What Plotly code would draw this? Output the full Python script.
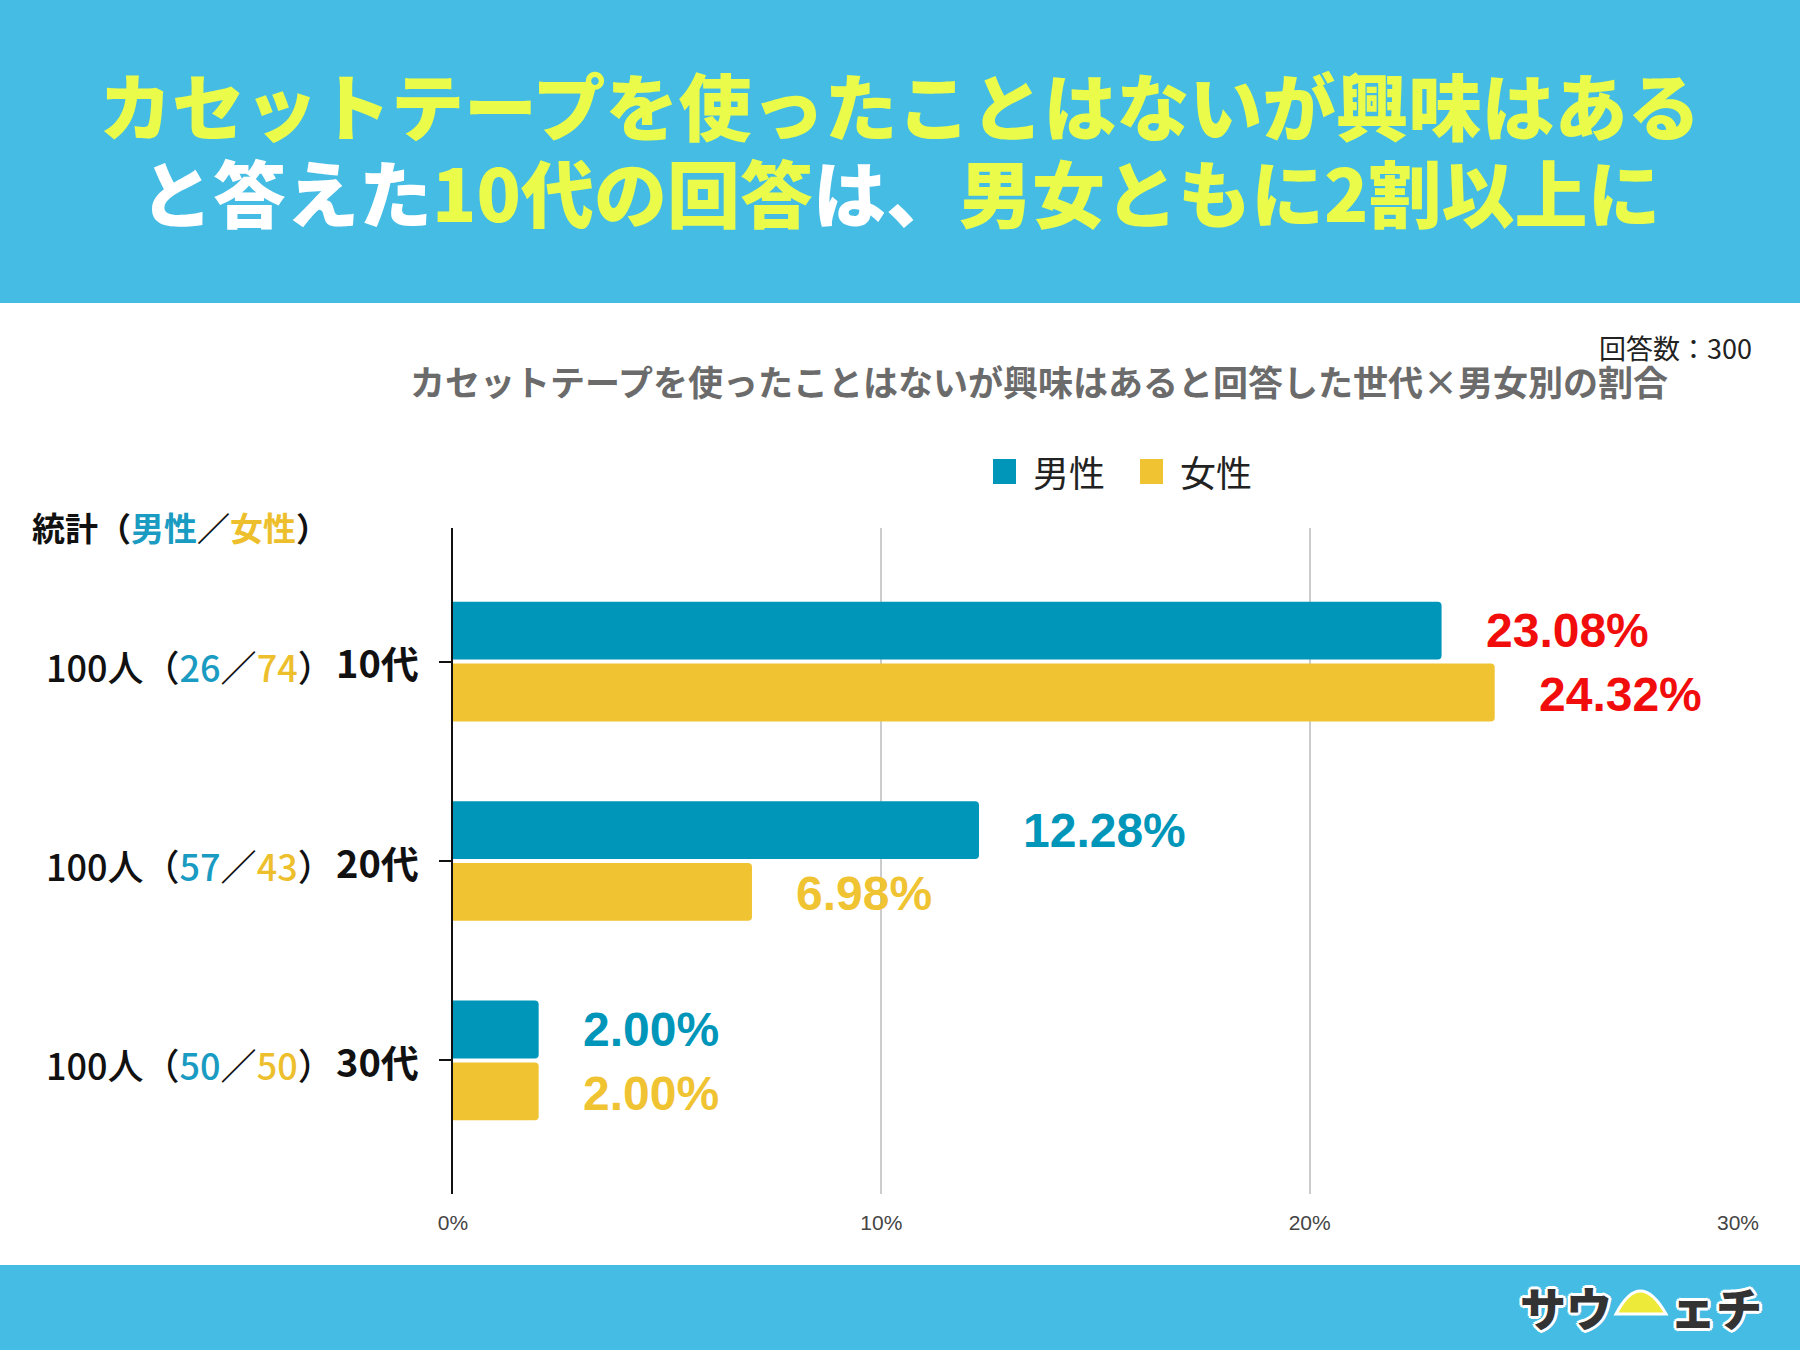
import plotly.graph_objects as go

# ---------------- data ----------------
age_groups = ["10代", "20代", "30代"]
series_names = ["男性", "女性"]
male_pct = [23.08, 12.28, 2.00]
female_pct = [24.32, 6.98, 2.00]
totals = [100, 100, 100]
male_n = [26, 57, 50]
female_n = [74, 43, 50]
x_ticks = [0, 10, 20, 30]
x_tick_labels = ["0%", "10%", "20%", "30%"]

title_line1 = "カセットテープを使ったことはないが興味はある"
title_line2_parts = [("と答えた", "white"), ("10代の回答", "yellow"), ("は、", "white"), ("男女ともに2割以上に", "yellow")]
subtitle = "カセットテープを使ったことはないが興味はあると回答した世代×男女別の割合"
sample_note = "回答数：300"
stats_head = "統計"
logo_text_left = "サウ"
logo_text_right = "ェチ"

# ---------------- style ----------------
W, H = 1800, 1350
BLUE_BAND = "#44BCE4"
TITLE_YELLOW = "#EAFB4A"
MALE = "#0096B9"
FEMALE = "#F0C332"
MALE_TXT = "#1A9BC2"
FEMALE_TXT = "#EDBF2C"
RED = "#F20D0D"
JP = "Noto Sans CJK JP"
WHITE_OUTLINE = ("#FFFFFF 3px 0px 0px, #FFFFFF -3px 0px 0px, #FFFFFF 0px 3px 0px, #FFFFFF 0px -3px 0px, "
                 "#FFFFFF 2px 2px 0px, #FFFFFF -2px -2px 0px, #FFFFFF 2px -2px 0px, #FFFFFF -2px 2px 0px")


def px(x):
    return x / W


def py(y):
    return 1 - y / H


fig = go.Figure()

ys = list(range(len(age_groups)))
fig.add_trace(go.Bar(
    x=male_pct, y=ys, orientation="h", name=series_names[0],
    width=0.29, offset=-0.30,
    marker=dict(color=MALE, cornerradius=4, line=dict(width=0)),
    hoverinfo="skip",
))
fig.add_trace(go.Bar(
    x=female_pct, y=ys, orientation="h", name=series_names[1],
    width=0.29, offset=0.01,
    marker=dict(color=FEMALE, cornerradius=4, line=dict(width=0)),
    hoverinfo="skip",
))

annotations = []
shapes = []

# value labels
for i, (m, f) in enumerate(zip(male_pct, female_pct)):
    mc = RED if i == 0 else MALE
    fc = RED if i == 0 else FEMALE
    annotations.append(dict(x=m, y=i - 0.155, xref="x", yref="y", text=f"{m:.2f}%",
                            xanchor="left", yanchor="middle", xshift=42, showarrow=False,
                            font=dict(family="Liberation Sans", size=48, color=mc, weight="bold")))
    annotations.append(dict(x=f, y=i + 0.165, xref="x", yref="y", text=f"{f:.2f}%",
                            xanchor="left", yanchor="middle", xshift=42, showarrow=False,
                            font=dict(family="Liberation Sans", size=48, color=fc, weight="bold")))

# left labels
for i, g in enumerate(age_groups):
    txt = (f"{totals[i]}人（<span style='color:{MALE_TXT}'>{male_n[i]}</span>／"
           f"<span style='color:{FEMALE_TXT}'>{female_n[i]}</span>）")
    annotations.append(dict(x=px(336), y=i, xref="paper", yref="y", text=txt,
                            xanchor="right", yanchor="middle", showarrow=False, yshift=-4,
                            font=dict(family=JP, size=36, color="#111111", weight=500)))
    annotations.append(dict(x=px(421), y=i, xref="paper", yref="y", text=g,
                            xanchor="right", yanchor="middle", showarrow=False, yshift=0,
                            font=dict(family=JP, size=38, color="#111111", weight="bold")))

# stats header
annotations.append(dict(
    x=px(30), y=py(527), xref="paper", yref="paper", xanchor="left", yanchor="middle", showarrow=False,
    text=(f"{stats_head}（<span style='color:{MALE_TXT}'>{series_names[0]}</span>／"
          f"<span style='color:{FEMALE_TXT}'>{series_names[1]}</span>）"),
    font=dict(family=JP, size=33, color="#111111", weight="bold")))

# header band + footer band
shapes.append(dict(type="rect", xref="paper", yref="paper", x0=0, x1=1, y0=py(303), y1=1,
                   fillcolor=BLUE_BAND, line=dict(width=0), layer="below"))
shapes.append(dict(type="rect", xref="paper", yref="paper", x0=0, x1=1, y0=0, y1=py(1265),
                   fillcolor=BLUE_BAND, line=dict(width=0), layer="below"))

annotations.append(dict(x=0.5, y=py(103), xref="paper", yref="paper", text=title_line1,
                        xanchor="center", yanchor="middle", showarrow=False,
                        font=dict(family=JP, size=73, color=TITLE_YELLOW, weight=900)))
col = {"white": "#FFFFFF", "yellow": TITLE_YELLOW}
line2 = "".join(f"<span style='color:{col[c]}'>{t}</span>" for t, c in title_line2_parts)
annotations.append(dict(x=0.5, y=py(190), xref="paper", yref="paper", text=line2,
                        xanchor="center", yanchor="middle", showarrow=False,
                        font=dict(family=JP, size=73, color=TITLE_YELLOW, weight=900)))

# subtitle and note
annotations.append(dict(x=px(1039), y=py(381), xref="paper", yref="paper", text=subtitle,
                        xanchor="center", yanchor="middle", showarrow=False,
                        font=dict(family=JP, size=35, color="#6B6B6B", weight="bold")))
annotations.append(dict(x=px(1754), y=py(347), xref="paper", yref="paper", text=sample_note,
                        xanchor="right", yanchor="middle", showarrow=False,
                        font=dict(family=JP, size=27, color="#222222")))

# legend
legend_items = [(series_names[0], MALE, 993), (series_names[1], FEMALE, 1140)]
for name, c, x0 in legend_items:
    shapes.append(dict(type="rect", xref="paper", yref="paper", x0=px(x0), x1=px(x0 + 23),
                       y0=py(484), y1=py(459), fillcolor=c, line=dict(width=0)))
    annotations.append(dict(x=px(x0 + 38), y=py(471), xref="paper", yref="paper", text=name,
                            xanchor="left", yanchor="middle", showarrow=False,
                            font=dict(family=JP, size=36, color="#222222")))

# logo (approximation)
shapes.append(dict(type="path", xref="paper", yref="paper",
                   path=(f"M {px(1616)},{py(1314)} Q {px(1640)},{py(1268)} {px(1666)},{py(1314)} Z"),
                   fillcolor="#EEEA3A", line=dict(color="#FFFFFF", width=3)))
annotations.append(dict(x=px(1614), y=py(1306), xref="paper", yref="paper", text=logo_text_left,
                        xanchor="right", yanchor="middle", showarrow=False,
                        font=dict(family=JP, size=46, color="#333333", weight=900, shadow=WHITE_OUTLINE)))
annotations.append(dict(x=px(1668), y=py(1306), xref="paper", yref="paper", text=logo_text_right,
                        xanchor="left", yanchor="middle", showarrow=False,
                        font=dict(family=JP, size=46, color="#333333", weight=900, shadow=WHITE_OUTLINE)))

fig.update_layout(
    width=W, height=H,
    margin=dict(l=0, r=0, t=0, b=0, pad=0, autoexpand=False),
    paper_bgcolor="white", plot_bgcolor="white",
    barmode="overlay", showlegend=False,
    annotations=annotations, shapes=shapes,
    xaxis=dict(domain=[px(453), px(1738)], range=[0, 30], tickvals=x_ticks, ticktext=x_tick_labels,
               showgrid=True, gridcolor="#CCCCCC", gridwidth=1.5, zeroline=False, showline=False,
               ticks="", ticklabelstandoff=14, automargin=False,
               tickfont=dict(family="Liberation Sans", size=21, color="#444444"), fixedrange=True),
    yaxis=dict(domain=[py(1194), py(528)], range=[2.67, -0.67], showgrid=False, zeroline=False,
               showline=True, linecolor="#111111", linewidth=2, tickvals=ys, ticks="outside",
               ticklen=12, tickcolor="#111111", tickwidth=2, showticklabels=False, automargin=False,
               fixedrange=True),
)

fig.write_html("out.html", config={"displayModeBar": False},
               post_script="document.body.style.margin='0';document.body.style.overflow='hidden';")
